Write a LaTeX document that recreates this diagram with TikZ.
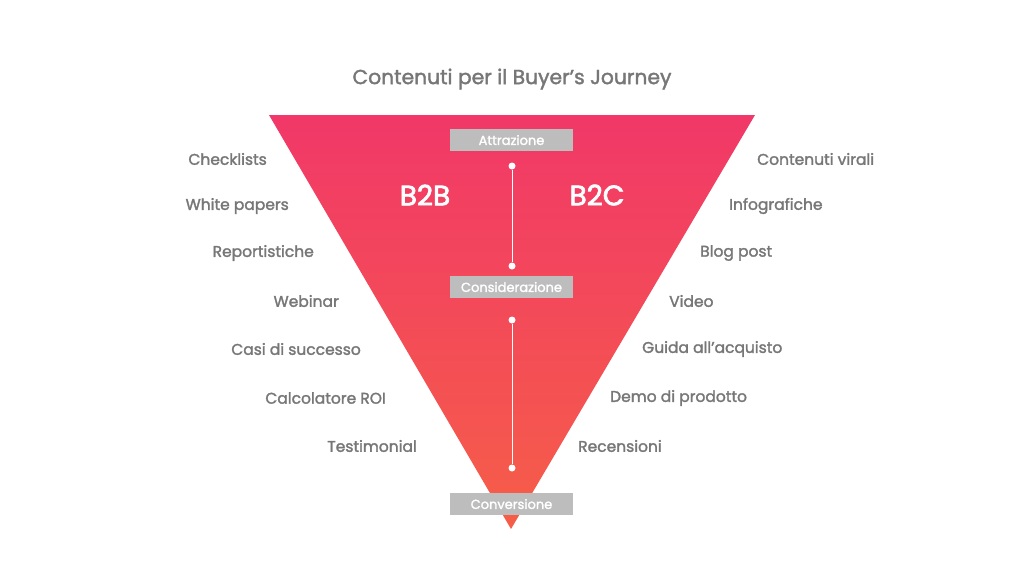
\documentclass[tikz,border=0pt]{standalone}
\usepackage{fontspec}
\setmainfont{Poppins}[BoldFont=Poppins,BoldFeatures={FakeBold=2.5}]
\newfontfamily\semib{Poppins}[FakeBold=1.8]
\usetikzlibrary{shadings}
\definecolor{topc}{HTML}{F13868}
\definecolor{botc}{HTML}{F65E48}
\definecolor{txtgray}{HTML}{777777}
\definecolor{boxgray}{HTML}{BDBDBD}
\tikzset{
  lbl/.style={font=\semib\fontsize{15.5}{17}\selectfont, text=txtgray, inner sep=0pt},
  stagebox/.style={fill=boxgray, minimum width=123pt, minimum height=22pt, inner sep=0pt, text=white, font=\semib\fontsize{13}{15}\selectfont},
  dot/.style={circle, fill=white, inner sep=0pt, minimum size=7pt},
  seg/.style={draw=white, line width=0.8pt},
  big/.style={font=\bfseries\fontsize{28}{30}\selectfont, text=white}
}
\begin{document}
\begin{tikzpicture}[x=1pt,y=-1pt]
\useasboundingbox (0,0) rectangle (1024,576);
\fill[white] (0,0) rectangle (1024,576);
\shade[top color=topc, bottom color=botc] (269,115) -- (755,115) -- (511,529) -- cycle;
\node[font=\semib\fontsize{20.3}{22}\selectfont, text=txtgray] (title) at (512,79) {Contenuti per il Buyer’s Journey};
\node[stagebox] (s1) at (511.5,140) {Attrazione};
\node[stagebox] (s2) at (511.5,287) {Considerazione};
\node[stagebox] (s3) at (511.5,504) {Conversione};
\node[dot] (d1) at (512,166) {};
\node[dot] (d2) at (512,266) {};
\node[dot] (d3) at (512,320) {};
\node[dot] (d4) at (512,468) {};
\draw[seg] (d1) -- (d2);
\draw[seg] (d3) -- (d4);
\node[big] (b2b) at (425,195) {B2B};
\node[big] (b2c) at (597,195) {B2C};
\node[lbl, anchor=east] (l1) at (267,159) {Checklists};
\node[lbl, anchor=east] (l2) at (289,206) {White papers};
\node[lbl, anchor=east] (l3) at (314,253) {Reportistiche};
\node[lbl, anchor=east] (l4) at (339,301) {Webinar};
\node[lbl, anchor=east] (l5) at (361,349) {Casi di successo};
\node[lbl, anchor=east] (l6) at (386,398) {Calcolatore ROI};
\node[lbl, anchor=east] (l7) at (417,446) {Testimonial};
\node[lbl, anchor=west] (r1) at (757,159) {Contenuti virali};
\node[lbl, anchor=west] (r2) at (729,206) {Infografiche};
\node[lbl, anchor=west] (r3) at (700,253) {Blog post};
\node[lbl, anchor=west] (r4) at (669,301) {Video};
\node[lbl, anchor=west] (r5) at (642,349) {Guida all’acquisto};
\node[lbl, anchor=west] (r6) at (610,398) {Demo di prodotto};
\node[lbl, anchor=west] (r7) at (578,446) {Recensioni};
\end{tikzpicture}
\end{document}
